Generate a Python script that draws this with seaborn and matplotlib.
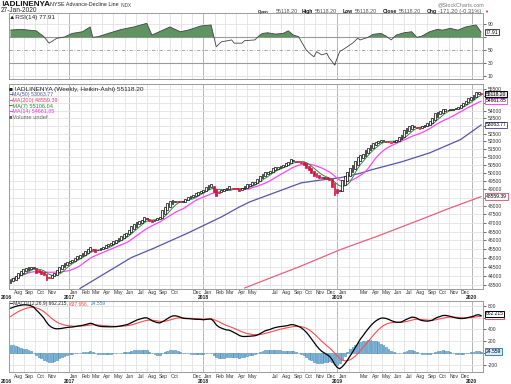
import numpy as np
import pandas as pd
import matplotlib
matplotlib.use('Agg')
import matplotlib.pyplot as plt
import matplotlib.transforms as mtrans
import seaborn as sns

sns.set_theme(style='white')
plt.rcParams['font.family'] = ['Liberation Sans Narrow', 'Liberation Sans', 'DejaVu Sans']

# --- weekly closes of the AD line ---
closes = [
    43800, 43920, 44040, 44160, 44270, 44370, 44440, 44480, 44500, 44470,
    44180, 44230, 44150, 44070, 43800, 43890, 44050, 44195, 44360, 44520,
    44620, 44720, 44800, 44850, 44900, 45010, 45120, 45190, 45270, 45400,
    45520, 45640, 45460, 45360, 45460, 45550, 45650, 45740, 45800, 45870,
    45950, 46020, 46140, 46250, 46350, 46440, 46600, 46800, 46950, 47050,
    47120, 47200, 47330, 47300, 47120, 47050, 47180, 47270, 47370, 47760,
    47960, 48160, 48280, 48360, 48300, 48250, 48230, 48260, 48420, 48560,
    48600, 48660, 48760, 48860, 48920, 48960, 49160, 49250, 49320, 48860,
    48600, 48800, 48960, 49000, 49060, 49200, 49050, 49000, 49020, 48920,
    49060, 49200, 49300, 49350, 49420, 49460, 49640, 49810, 49950, 50080,
    50050, 50140, 50290, 50340, 50390, 50450, 50500, 50600, 50710, 50860,
    50780, 50710, 50680, 50650, 50500, 50330, 50180, 49970, 49810, 49740,
    49670, 49670, 49730, 49650, 49570, 49160, 48660, 48750, 48960, 49570,
    49820, 50080, 50300, 50500, 50750, 50980, 51130, 51190, 51450, 51600,
    51770, 51880, 51980, 52040, 52090, 52030, 51980, 51950, 51920, 52000,
    52090, 52250, 52410, 52740, 52850, 52960, 53070, 52960, 52870, 52790,
    52960, 53070, 53180, 53350, 53510, 53850, 53900, 53960, 54120, 54090,
    54070, 54100, 54120, 54200, 54270, 54400, 54540, 54690, 54840, 54950,
    55070, 55300, 55290, 55118.20,
]
dates = pd.date_range('2016-07-25', periods=len(closes), freq='7D')

# long moving averages (week index, value)
ma50_weeks = [27, 47, 56, 69, 82, 89, 93, 113, 120, 128, 136, 140, 152, 163, 175, 183]
ma50_vals = [43340, 45030, 45570, 46420, 47350, 47940, 48240, 49390, 49550, 49700,
             49980, 50180, 50690, 51260, 52110, 53063.77]
ma200_weeks = [91, 103, 113, 128, 144, 159, 171, 183]
ma200_vals = [43365, 44015, 44560, 45460, 46310, 47170, 47880, 48559.39]

# RSI(14) (week index, value)
rsi_weeks = [0, 4, 10, 13, 15, 17, 18, 21, 24, 28, 31, 32, 34, 38, 43, 48, 53, 55, 57,
             62, 66, 69, 74, 78, 80, 82, 86, 87, 90, 91, 95, 97, 98, 100, 103, 106, 108,
             110, 112, 115, 117, 118, 119, 121, 123, 124, 125, 126, 128, 130, 133, 135,
             136, 139, 141, 144, 146, 148, 150, 153, 156, 158, 160, 163, 166, 168, 171,
             174, 177, 181, 183]
rsi_vals = [81.2, 82.3, 80, 71, 61, 66, 68.5, 70.5, 76, 78.6, 86, 70, 71, 76, 82, 86, 91.5,
            73.5, 77, 86, 78.6, 81, 87.4, 89, 55.5, 63, 66, 61, 61, 64.8, 66, 73.5, 76, 77,
            75, 76, 80, 73.5, 71, 50.5, 43, 40, 48, 43, 45.4, 37.7, 33, 27.4, 48, 53, 61,
            68.5, 66, 70, 74.6, 76, 72, 66, 73.5, 77, 78.6, 70, 72, 78.6, 82.3, 81, 83.8,
            81, 86, 89, 77.91]

# MACD state at the left edge (EMA gaps below the first close, signal value)
ema12_gap_start = 800
ema26_gap_start = 1556
signal_start = 614
ha_open_start = 43650

# --- derived series ---
c = np.array(closes, dtype=float)
n = len(c)
ha_open = np.empty(n)
ha_open[0] = ha_open_start
for i in range(1, n):
    ha_open[i] = (ha_open[i - 1] + c[i - 1]) / 2

ma7 = pd.Series(c).rolling(7, min_periods=1).mean().values
ma14 = pd.Series(c).rolling(14, min_periods=1).mean().values

ema12 = np.empty(n)
ema26 = np.empty(n)
ema12[0] = c[0] - ema12_gap_start
ema26[0] = c[0] - ema26_gap_start
for i in range(1, n):
    ema12[i] = ema12[i - 1] + 2 / 13 * (c[i] - ema12[i - 1])
    ema26[i] = ema26[i - 1] + 2 / 27 * (c[i] - ema26[i - 1])
macd = ema12 - ema26
signal = np.empty(n)
signal[0] = signal_start
for i in range(1, n):
    signal[i] = signal[i - 1] + 0.2 * (macd[i] - signal[i - 1])
hist = macd - signal

# --- figure ---
W, H = 511, 384
fig = plt.figure(figsize=(W / 100, H / 100), dpi=100)
renderer = fig.canvas.get_renderer()


def box(top, bottom, left=9, right=483):
    return [left / W, 1 - bottom / H, (right - left) / W, (bottom - top) / H]


def fit_size(s, width, **kw):
    t = fig.text(0, 0, s, fontsize=10, **kw)
    w = t.get_window_extent(renderer).width
    t.remove()
    return 10 * width / w


def put(x, y, s, width=None, size=4.0, **kw):
    # text placed in reference pixels, font size fitted to a target width
    kw.setdefault('ha', 'left')
    if width:
        size = fit_size(s, width, **{k: v for k, v in kw.items() if k == 'fontweight'})
    return fig.text(x / W, 1 - y / H, s, fontsize=size, va='center', **kw)


ax_rsi = fig.add_axes(box(13, 79))
ax_main = fig.add_axes(box(84, 289))
ax_macd = fig.add_axes(box(301, 372))

xmin = dates[0] - pd.Timedelta(days=4)
xmax = dates[-1] + pd.Timedelta(days=5)
month_starts = pd.date_range('2016-08-01', '2020-01-01', freq='MS')
grid_c = '#e2e2e2'
year_c = '#aaaaaa'
small = fit_size('55500', 14)
msize = fit_size('Aug', 9)
ysize = fit_size('2017', 11, fontweight='bold')
txt_c = '#333333'

for ax in (ax_rsi, ax_main, ax_macd):
    ax.set_xlim(xmin, xmax)
    ax.set_xticks(month_starts)
    ax.set_xticklabels([])
    ax.tick_params(axis='x', length=0)
    for m in month_starts:
        ax.axvline(m, color=year_c if m.month == 1 else grid_c, lw=0.6, zorder=0)
    for s in ax.spines.values():
        s.set_color('#9a9a9a')
        s.set_linewidth(0.7)
    ax.yaxis.tick_right()
    ax.tick_params(axis='y', labelsize=small, length=2, pad=1.5, colors=txt_c, width=0.5)
    ax.grid(False)

# --- RSI panel ---
rsi_x = dates[rsi_weeks]
rsi_y = np.array(rsi_vals)
ax_rsi.set_ylim(5.9, 107.4)
for lv in (10, 90):
    ax_rsi.axhline(lv, color=grid_c, lw=0.6, zorder=0)
ax_rsi.axhline(70, color='#9a9a9a', lw=0.8, zorder=1)
ax_rsi.axhline(30, color='#9a9a9a', lw=0.8, zorder=1)
ax_rsi.axhline(50, color='#9a9a9a', lw=0.6, ls=(0, (4, 2, 1, 2)), zorder=1)
ax_rsi.fill_between(rsi_x, rsi_y, 70, where=rsi_y > 70, interpolate=True,
                    color='#5f9462', lw=0, zorder=2)
ax_rsi.fill_between(rsi_x, rsi_y, 30, where=rsi_y < 30, interpolate=True,
                    color='#c8102e', lw=0, zorder=2)
sns.lineplot(x=rsi_x, y=rsi_y, ax=ax_rsi, color='#444444', lw=0.6, zorder=3)
ax_rsi.set_yticks([10, 30, 50, 70, 90])
ax_rsi.set_yticklabels(['10', '30', '50', '', '90'])
ax_rsi.set_xlabel('')
ax_rsi.set_ylabel('')

# --- main panel (log price scale) ---
ax_main.set_yscale('log')
ax_main.set_ylim(43312, 55819)
price_ticks = list(range(43500, 56000, 500))
for p in price_ticks:
    ax_main.axhline(p, color=grid_c, lw=0.6, zorder=0)
ax_main.yaxis.set_minor_locator(matplotlib.ticker.NullLocator())
ax_main.set_yticks(price_ticks)
hidden = {55000, 54500, 53000, 48500}
ax_main.set_yticklabels(['' if p in hidden else str(p) for p in price_ticks])

sns.lineplot(x=dates[ma200_weeks], y=ma200_vals, ax=ax_main, color='#e8607e', lw=0.9, zorder=2)
sns.lineplot(x=dates[ma50_weeks], y=ma50_vals, ax=ax_main, color='#5555aa', lw=0.9, zorder=2)
sns.lineplot(x=dates, y=ma14, ax=ax_main, color='#ff44ff', lw=0.9, zorder=2)
sns.lineplot(x=dates, y=ma7, ax=ax_main, color='#2e8b3a', lw=0.7, zorder=3)

up = c >= ha_open
lo = np.minimum(c, ha_open)
hi = np.maximum(c, ha_open)
hgt = np.maximum(hi - lo, 40)
ax_main.bar(dates[up], hgt[up], bottom=lo[up], width=5, color='white',
            edgecolor='black', linewidth=0.5, zorder=4)
ax_main.bar(dates[~up], hgt[~up], bottom=lo[~up], width=5, color='#d2153f',
            edgecolor='#d2153f', linewidth=0.5, zorder=4)
ax_main.set_xlabel('')
ax_main.set_ylabel('')

# --- MACD panel ---
ax_macd.set_ylim(-322, 880)
for lv in (-200, 0, 200, 400, 600, 800):
    ax_macd.axhline(lv, color=grid_c, lw=0.6, zorder=0)
ax_macd.bar(dates, hist, width=5, color='#7fb6d9', edgecolor='#3d84b5', linewidth=0.4, zorder=2)
sns.lineplot(x=dates, y=signal, ax=ax_macd, color='#ff4b4b', lw=0.8, zorder=3)
sns.lineplot(x=dates, y=macd, ax=ax_macd, color='black', lw=0.9, zorder=4)
ax_macd.set_yticks([-200, 0, 200, 400, 600, 800])
ax_macd.set_yticklabels(['-200', '', '200', '400', '', '800'])
ax_macd.set_xlabel('')
ax_macd.set_ylabel('')

# --- month / year labels ---
skip = {(2016, 12), (2017, 11), (2018, 6), (2019, 2)}
for ax, ym in ((ax_main, 292.5), (ax_macd, 376.5)):
    tr = mtrans.blended_transform_factory(ax.transData, fig.transFigure)
    for m in month_starts:
        if m.year >= 2020 or (m.year, m.month) in skip:
            continue
        mid = m + pd.Timedelta(days=14)
        ax.text(mid, 1 - ym / H, m.strftime('%b'), transform=tr, ha='center', va='center',
                fontsize=msize, color=txt_c, clip_on=False)
    put(1, ym + 5, '2016', size=ysize, fontweight='bold', color='#222222')
    for yr in (2017, 2018, 2019, 2020):
        ax.text(pd.Timestamp(f'{yr}-01-01'), 1 - (ym + 5) / H, str(yr), transform=tr,
                ha='center', va='center', fontsize=ysize, fontweight='bold',
                color='#222222', clip_on=False)


# --- tags on the right axis ---
def tag(ax, y, text, edge, face='white', tc='black'):
    tr = mtrans.blended_transform_factory(ax.transAxes, ax.transData)
    ax.text(1.006, y, text, transform=tr, ha='left', va='center', fontsize=small,
            color=tc, clip_on=False, zorder=10,
            bbox=dict(boxstyle='square,pad=0.15', fc=face, ec=edge, lw=0.7))


tag(ax_main, 48559.39, '48559.39', '#e8607e')
tag(ax_main, 53063.77, '53063.77', '#5555aa')
tag(ax_main, 54661.85, '54661.85', '#ff44ff')
tag(ax_main, 55118.20, '55118.20', 'black', face='#e8e8e8')
tag(ax_rsi, 77.91, '77.91', '#444444')
tag(ax_macd, 637.656, '637.656', '#ff4b4b')
tag(ax_macd, 662.215, '662.215', 'black')
tag(ax_macd, 24.559, '24.559', '#3d84b5', face='#dcebf6')

# --- header ---
put(1, 5, '!ADLINENYA', width=49, fontweight='bold', color='#111111')
put(50, 5, 'NYSE Advance-Decline Line', width=68, color='#222222')
put(121, 5.5, 'INDX', width=11, color='#444444')
put(1, 10.7, '27-Jan-2020', width=37, color='#222222')
put(437.7, 4.5, '@StockCharts.com', width=47, color='#777777')
hdr = [(258.3, 'Open', True, 11), (275.7, '55118.20', False, 22), (301.7, 'High', True, 11),
       (315, '55118.20', False, 22), (342.7, 'Low', True, 10), (355, '55118.20', False, 22),
       (382.3, 'Close', True, 14), (399, '55118.20', False, 22), (426.7, 'Chg', True, 10),
       (438.3, '-171.20 (-0.31%)', False, 43)]
for x, s, b, w in hdr:
    put(x, 11.5, s, width=w, fontweight='bold' if b else 'normal',
        color='#111111' if b else '#555555')
put(484.3, 11.5, '\u25bc', size=3, color='#d2153f')

# --- panel legends ---
put(9, 17.3, '\u25b2RSI(14) 77.91', width=46, color='#222222')
leg = [('\u25a0 !ADLINENYA (Weekly, Heikin-Ashi) 55118.20', '#222222', 135),
       ('\u2501MA(50) 53063.77', '#5555aa', 44),
       ('\u2501MA(200) 48559.39', '#e8405e', 48),
       ('\u2501MA(7) 55106.04', '#2e8b3a', 44),
       ('\u2501MA(14) 54661.85', '#ee33ee', 45),
       ('\u25a0Volume undef', '#666666', 39)]
for k, (s, col, w) in enumerate(leg):
    put(9, 89 + 5.7 * k, s, width=w, color=col)
t1 = put(9, 303.5, '\u2501 MACD(12,26,9) 662.215,', width=58, color='#222222')
fs = t1.get_fontsize()
x1 = t1.get_window_extent(renderer).x1
t2 = put(x1 + 2, 303.5, '637.656,', size=fs, color='#ff4b4b')
x2 = t2.get_window_extent(renderer).x1
put(x2 + 2, 303.5, '24.559', size=fs, color='#3d84b5')

fig.savefig('out.png', dpi=100, facecolor='white')
